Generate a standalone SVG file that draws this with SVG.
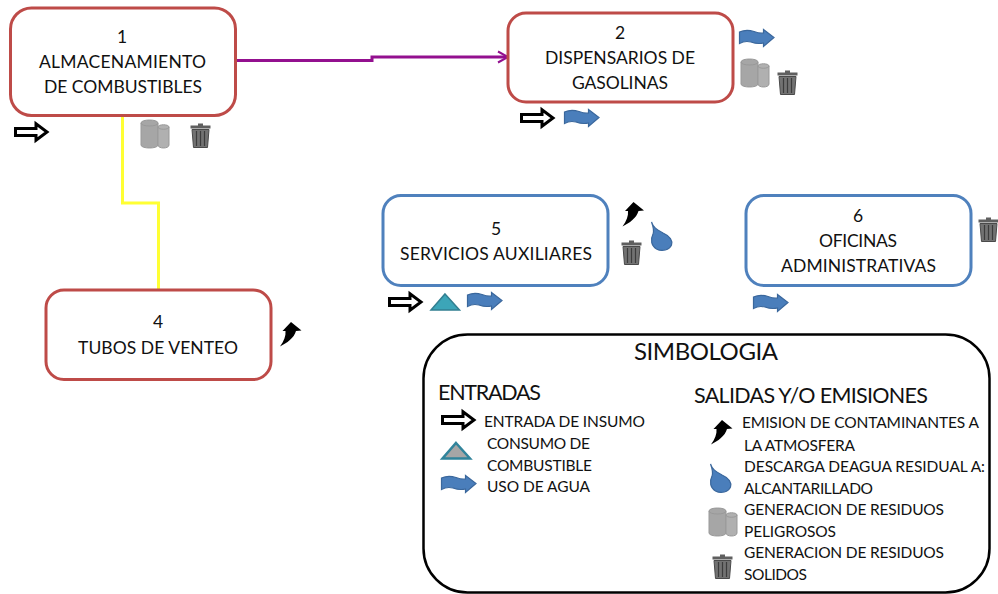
<svg xmlns="http://www.w3.org/2000/svg" width="998" height="594" viewBox="0 0 998 594">
<style>
text{font-family:"Lato","Carlito","Open Sans",sans-serif;fill:#111;text-anchor:middle}
.l{font-size:17.5px}
.s{font-size:15.500px;text-anchor:start}
.h{font-size:21.500px;text-anchor:start}
.red{fill:#fff;stroke:#be4b48;stroke-width:3}
.blue{fill:#fff;stroke:#4f81bd;stroke-width:3}
</style>
<defs>
<g id="inarrow"><path d="M1.500 6.500H22V1.800L33 10 22 18.200V13.500H1.500Z" fill="#fff" stroke="#000" stroke-width="3"/></g>
<g id="water"><path d="M0.500 3C5 1 10 1 15 2.500 19 4 22 4.500 24.500 4V0.500L35 8.500 24.500 17.500V14C20 15 16 14.500 12 13 8 12 4 12.500 0.500 14.500Z" fill="#4a7ebb" stroke="#3a679c" stroke-width="1.200"/></g>
<g id="cans" fill="#a6a6a6" stroke="#999" stroke-width="1"><path d="M1 5C1 1 18 1 18 5V27C18 31 1 31 1 27Z"/><path d="M18 9C18 6 29 6 29 9V27C29 31 18 31 18 27Z" fill="#b0b0b0"/><path d="M1 5C1 9 18 9 18 5M18 9C18 12 29 12 29 9" fill="none"/></g>
<g id="bin"><path d="M8 2.500V0.500H13V2.500H20.500V5.500H0.500V2.500Z" fill="#5f5f5f"/><path d="M2 6.500H19L17.500 24.500H3.500Z" fill="#727272" stroke="#4a4a4a"/><path d="M6.500 8V23M10.500 8V23M14.500 8V23" stroke="#3c3c3c" stroke-width="1.200"/></g>
<g id="emit"><path d="M0 24.500C4 19 6 14 5.500 9H2.500L11 0 21.500 8.500 16 9C14 16 7 21 0 24.500Z" fill="#000"/></g>
<g id="drop"><path d="M1.500 1C3 6 6 8 13 12 20 15 23 20 21.500 24 19.500 29 12 31 6.500 28 1.500 25 0 19 3 13 4.500 9 3 5 1.500 1Z" fill="#4a7ebb" stroke="#3a679c" stroke-width="1.200"/></g>
</defs>
<g id="connectors" fill="none" stroke-width="3">
<path d="M235 60.500H372V57H507" stroke="#93108f"/>
<path d="M498 51.500L508 57 498 62.500" stroke="#93108f" stroke-width="2"/>
<path d="M122.500 115V203H158.500V290" stroke="#ffff33"/>
</g>
<g id="node1"><rect class="red" x="10.500" y="8" width="225" height="107.500" rx="21"/>
<text class="l" x="122" y="43">1</text><text class="l" x="122.500" y="68" textLength="167">ALMACENAMIENTO</text><text class="l" x="123" y="93" textLength="158">DE COMBUSTIBLES</text>
<use href="#inarrow" x="14" y="122"/><use href="#cans" x="140" y="118"/><use href="#bin" x="190" y="123"/></g>
<g id="node2"><rect class="red" x="508" y="13" width="225" height="89" rx="18"/>
<text class="l" x="620" y="39">2</text><text class="l" x="620" y="64" textLength="150">DISPENSARIOS DE</text><text class="l" x="620" y="89" textLength="96">GASOLINAS</text>
<use href="#water" x="739" y="29"/><use href="#cans" x="740" y="57"/><use href="#bin" x="777" y="70"/><use href="#inarrow" x="520" y="108"/><use href="#water" x="564" y="109"/></g>
<g id="node4"><rect class="red" x="46" y="290" width="225" height="89.500" rx="18"/>
<text class="l" x="158" y="328">4</text><text class="l" x="158" y="353.500" textLength="160">TUBOS DE VENTEO</text>
<use href="#emit" x="280" y="322"/></g>
<g id="node5"><rect class="blue" x="383" y="195.500" width="225" height="90" rx="18"/>
<text class="l" x="496" y="235">5</text><text class="l" x="496" y="260" textLength="192">SERVICIOS  AUXILIARES</text>
<use href="#inarrow" x="388" y="292"/><path d="M445 294L459.500 310H431Z" fill="#3ca5b8" stroke="#327f91" stroke-width="1.500"/><use href="#water" x="467" y="292"/><use href="#emit" x="622.500" y="202"/><use href="#bin" x="621" y="240"/><use href="#drop" x="650" y="221"/></g>
<g id="node6"><rect class="blue" x="746" y="195.500" width="225" height="90" rx="18"/>
<text class="l" x="858" y="222">6</text><text class="l" x="858" y="247" textLength="78">OFICINAS</text><text class="l" x="858.500" y="272" textLength="155">ADMINISTRATIVAS</text>
<use href="#bin" x="978" y="217"/><use href="#water" x="753" y="294"/></g>
<g id="simbologia"><rect x="423.500" y="334.500" width="566" height="258" rx="44" fill="#fff" stroke="#000" stroke-width="2.500"/>
<text x="706" y="360" font-size="24" textLength="144">SIMBOLOGIA</text>
<text class="h" x="438" y="400" textLength="103">ENTRADAS</text>
<text class="h" x="694" y="403" textLength="234">SALIDAS Y/O EMISIONES</text>
<use href="#inarrow" x="441" y="410"/><text class="s" x="484" y="427" textLength="161">ENTRADA DE INSUMO</text>
<path d="M456 443L470 458.500H442.500Z" fill="#a6a6a6" stroke="#31849b" stroke-width="2.500"/>
<text class="s" x="487" y="449" textLength="103">CONSUMO DE</text><text class="s" x="487" y="470.500" textLength="105">COMBUSTIBLE</text>
<use href="#water" x="441" y="475"/><text class="s" x="487" y="492" textLength="103">USO DE AGUA</text>
<use href="#emit" x="711" y="420"/><text class="s" x="742" y="428" textLength="237">EMISION DE CONTAMINANTES A</text><text class="s" x="744" y="451" textLength="111">LA ATMOSFERA</text>
<use href="#drop" x="709" y="463"/><text class="s" x="744" y="472" textLength="241">DESCARGA DEAGUA RESIDUAL A:</text><text class="s" x="744" y="494" textLength="129">ALCANTARILLADO</text>
<use href="#cans" x="708" y="506"/><text class="s" x="744" y="515" textLength="200">GENERACION DE RESIDUOS</text><text class="s" x="744" y="537" textLength="92">PELIGROSOS</text>
<use href="#bin" x="712" y="554"/><text class="s" x="744" y="558" textLength="200">GENERACION DE RESIDUOS</text><text class="s" x="744" y="580" textLength="63">SOLIDOS</text></g>
</svg>
